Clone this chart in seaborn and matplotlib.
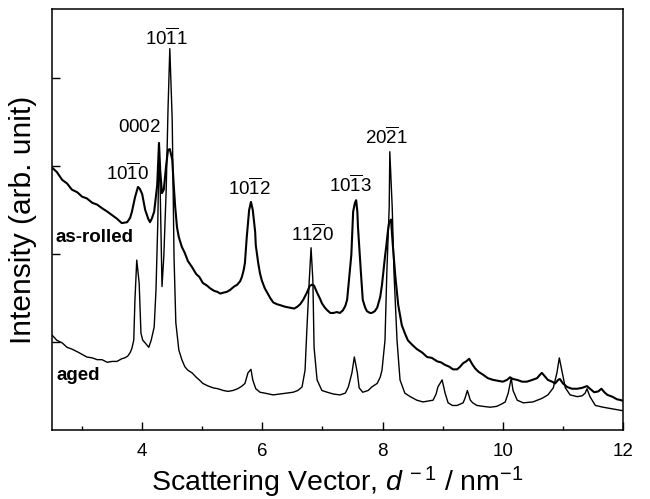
import numpy as np
import pandas as pd
import matplotlib
import matplotlib.pyplot as plt
import seaborn as sns
from matplotlib.ticker import MultipleLocator

matplotlib.use('Agg')

# as-rolled pattern (upper curve), x in nm^-1, intensity in arb. units
rolled_x = [2.50, 2.58, 2.67, 2.75, 2.83, 2.92, 3.00, 3.08, 3.17, 3.25, 3.33, 3.42, 3.50, 3.58,
            3.66, 3.75, 3.80, 3.83, 3.88, 3.93, 3.96, 4.00, 4.05, 4.10, 4.13, 4.16, 4.20, 4.23,
            4.25, 4.28, 4.30, 4.33, 4.36, 4.40, 4.43, 4.46, 4.50, 4.53, 4.55, 4.58, 4.61, 4.66,
            4.71, 4.76, 4.83, 4.90, 4.95, 5.01, 5.08, 5.13, 5.20, 5.25, 5.30, 5.35, 5.41, 5.46,
            5.53, 5.58, 5.63, 5.66, 5.69, 5.71, 5.74, 5.78, 5.81, 5.84, 5.88, 5.89, 5.93, 5.96,
            5.99, 6.04, 6.08, 6.13, 6.18, 6.24, 6.29, 6.38, 6.46, 6.53, 6.58, 6.63, 6.68, 6.71,
            6.74, 6.79, 6.83, 6.86, 6.91, 6.96, 6.99, 7.04, 7.08, 7.13, 7.18, 7.24, 7.29, 7.34,
            7.38, 7.41, 7.44, 7.48, 7.49, 7.51, 7.54, 7.56, 7.58, 7.59, 7.62, 7.64, 7.67, 7.71,
            7.74, 7.79, 7.82, 7.87, 7.91, 7.96, 7.99, 8.01, 8.04, 8.06, 8.09, 8.11, 8.14, 8.17,
            8.21, 8.26, 8.32, 8.37, 8.42, 8.49, 8.57, 8.66, 8.74, 8.82, 8.91, 8.97, 9.04, 9.11,
            9.17, 9.24, 9.29, 9.34, 9.39, 9.44, 9.49, 9.54, 9.60, 9.67, 9.75, 9.84, 9.92, 10.00,
            10.07, 10.12, 10.17, 10.24, 10.32, 10.40, 10.49, 10.57, 10.62, 10.65, 10.70, 10.75,
            10.82, 10.87, 10.92, 10.95, 11.00, 11.07, 11.15, 11.24, 11.32, 11.40, 11.45, 11.52,
            11.59, 11.64, 11.69, 11.74, 11.82, 11.90, 11.97, 12.00]
rolled_y = [2.98, 2.93, 2.84, 2.80, 2.73, 2.70, 2.65, 2.63, 2.58, 2.56, 2.52, 2.48, 2.44, 2.40,
            2.35, 2.36, 2.41, 2.48, 2.64, 2.76, 2.74, 2.68, 2.50, 2.40, 2.36, 2.40, 2.48, 2.66,
            2.78, 3.26, 2.95, 2.69, 2.73, 3.01, 3.18, 3.19, 3.07, 2.73, 2.53, 2.30, 2.19, 2.08,
            2.01, 1.92, 1.85, 1.77, 1.74, 1.67, 1.64, 1.61, 1.58, 1.57, 1.55, 1.56, 1.57, 1.59,
            1.63, 1.65, 1.69, 1.74, 1.82, 1.90, 2.19, 2.50, 2.59, 2.50, 2.25, 2.10, 1.90, 1.78,
            1.70, 1.61, 1.56, 1.50, 1.45, 1.43, 1.42, 1.40, 1.39, 1.38, 1.40, 1.43, 1.48, 1.52,
            1.56, 1.64, 1.65, 1.64, 1.56, 1.49, 1.44, 1.39, 1.36, 1.33, 1.33, 1.34, 1.33, 1.36,
            1.41, 1.48, 1.70, 1.99, 2.16, 2.48, 2.58, 2.61, 2.48, 2.31, 1.99, 1.78, 1.48, 1.39,
            1.35, 1.33, 1.33, 1.35, 1.39, 1.51, 1.65, 1.78, 1.97, 2.08, 2.27, 2.36, 2.39, 2.10,
            1.76, 1.42, 1.19, 1.10, 1.02, 0.97, 0.92, 0.88, 0.83, 0.82, 0.78, 0.77, 0.74, 0.72,
            0.69, 0.69, 0.72, 0.76, 0.78, 0.81, 0.75, 0.70, 0.66, 0.63, 0.59, 0.57, 0.56, 0.55,
            0.57, 0.60, 0.58, 0.57, 0.55, 0.55, 0.57, 0.59, 0.63, 0.65, 0.61, 0.57,
            0.55, 0.53, 0.57, 0.58, 0.53, 0.49, 0.47, 0.47, 0.48, 0.50, 0.47, 0.43,
            0.44, 0.47, 0.43, 0.40, 0.38, 0.35, 0.34, 0.33]

# aged pattern (lower curve)
aged_x = [2.50, 2.58, 2.67, 2.75, 2.83, 2.92, 3.00, 3.08, 3.17, 3.25, 3.33, 3.42, 3.50, 3.58,
          3.66, 3.71, 3.76, 3.80, 3.83, 3.86, 3.88, 3.91, 3.95, 3.98, 4.01, 4.05, 4.11, 4.15,
          4.20, 4.23, 4.26, 4.28, 4.30, 4.31, 4.33, 4.36, 4.40, 4.43, 4.46, 4.50, 4.53, 4.56,
          4.61, 4.66, 4.71, 4.76, 4.83, 4.90, 4.95, 5.01, 5.10, 5.18, 5.26, 5.35, 5.43, 5.51,
          5.59, 5.66, 5.71, 5.76, 5.81, 5.84, 5.89, 5.96, 6.04, 6.18, 6.29, 6.41, 6.51, 6.59,
          6.66, 6.71, 6.74, 6.78, 6.81, 6.84, 6.86, 6.91, 6.99, 7.08, 7.18, 7.29, 7.38, 7.43,
          7.49, 7.53, 7.58, 7.61, 7.67, 7.76, 7.82, 7.91, 7.96, 7.99, 8.04, 8.07, 8.11, 8.12,
          8.16, 8.19, 8.24, 8.29, 8.37, 8.46, 8.57, 8.67, 8.76, 8.84, 8.89, 8.92, 8.99, 9.04,
          9.09, 9.16, 9.24, 9.34, 9.37, 9.41, 9.46, 9.50, 9.57, 9.67, 9.79, 9.90, 9.99, 10.04,
          10.09, 10.14, 10.17, 10.24, 10.34, 10.50, 10.65, 10.75, 10.84, 10.90, 10.94, 10.99,
          11.04, 11.12, 11.24, 11.32, 11.37, 11.40, 11.45, 11.54, 11.67, 11.83, 12.00]
aged_y = [1.08, 1.02, 0.99, 0.94, 0.92, 0.89, 0.86, 0.83, 0.82, 0.80, 0.80, 0.77, 0.78, 0.78,
          0.81, 0.82, 0.84, 0.88, 0.93, 1.02, 1.48, 1.93, 1.67, 1.10, 1.02, 0.99, 0.94, 1.02,
          1.17, 1.59, 2.35, 3.18, 2.73, 2.35, 1.63, 1.97, 2.73, 3.64, 4.33, 3.52, 1.97, 1.22,
          0.91, 0.80, 0.72, 0.68, 0.65, 0.60, 0.57, 0.53, 0.50, 0.48, 0.47, 0.45, 0.44, 0.45,
          0.47, 0.50, 0.53, 0.65, 0.69, 0.57, 0.47, 0.43, 0.42, 0.40, 0.41, 0.42, 0.43, 0.45,
          0.49, 0.68, 1.14, 1.70, 2.07, 1.70, 0.94, 0.57, 0.45, 0.43, 0.41, 0.40, 0.42, 0.49,
          0.65, 0.83, 0.65, 0.48, 0.43, 0.45, 0.49, 0.53, 0.60, 0.68, 1.02, 1.78, 2.53, 3.16,
          2.53, 1.78, 1.02, 0.57, 0.42, 0.38, 0.34, 0.32, 0.33, 0.34, 0.41, 0.49, 0.57, 0.42,
          0.31, 0.28, 0.28, 0.31, 0.36, 0.45, 0.34, 0.31, 0.28, 0.27, 0.26, 0.27, 0.30, 0.32,
          0.42, 0.59, 0.45, 0.34, 0.31, 0.32, 0.36, 0.40, 0.48, 0.65, 0.82, 0.65,
          0.48, 0.40, 0.38, 0.39, 0.42, 0.47, 0.38, 0.28, 0.26, 0.24, 0.22]

# reflection labels and where they sit
peak_names = [r'$\mathregular{10\overline{1}0}$', r'$\mathregular{0002}$',
              r'$\mathregular{10\overline{1}1}$', r'$\mathregular{10\overline{1}2}$',
              r'$\mathregular{11\overline{2}0}$', r'$\mathregular{10\overline{1}3}$',
              r'$\mathregular{20\overline{2}1}$']
peak_label_x = [3.75, 3.96, 4.41, 5.79, 6.83, 7.46, 8.07]
peak_label_y = [2.92, 3.43, 4.45, 2.75, 2.22, 2.78, 3.32]

sns.set_style("ticks")
plt.rcParams['font.family'] = ['Liberation Sans', 'DejaVu Sans']
plt.rcParams['mathtext.fontset'] = 'custom'
plt.rcParams['mathtext.rm'] = 'Liberation Sans'
plt.rcParams['mathtext.it'] = 'Liberation Sans:italic'
plt.rcParams['mathtext.bf'] = 'Liberation Sans:bold'
plt.rcParams['text.color'] = 'black'
plt.rcParams['axes.labelcolor'] = 'black'
plt.rcParams['xtick.color'] = 'black'
plt.rcParams['ytick.color'] = 'black'

fig = plt.figure(figsize=(6.5, 4.99), dpi=100)
ax = fig.add_axes([0.08, 0.138, 0.8785, 0.844])

df_rolled = pd.DataFrame({'x': rolled_x, 'y': rolled_y})
df_aged = pd.DataFrame({'x': aged_x, 'y': aged_y})
sns.lineplot(data=df_rolled, x='x', y='y', ax=ax, color='black', linewidth=1.5,
             sort=False, estimator=None)
sns.lineplot(data=df_aged, x='x', y='y', ax=ax, color='black', linewidth=1.0,
             sort=False, estimator=None)

for name, lx, ly in zip(peak_names, peak_label_x, peak_label_y):
    ax.text(lx, ly, name, ha='center', va='center', fontsize=13.5)

ax.text(2.55, 2.19, 'as-rolled', ha='left', va='center', fontsize=13.5, fontweight='bold')
ax.text(2.58, 0.62, 'aged', ha='left', va='center', fontsize=13.5, fontweight='bold')

ax.set_xlim(2.5, 12)
ax.set_ylim(0, 4.78)
ax.xaxis.set_minor_locator(MultipleLocator(1))
ax.set_xticks([4, 6, 8, 10, 12])
ax.set_yticks([1, 2, 3, 4])
ax.set_yticklabels([])
ax.tick_params(axis='both', which='major', direction='in', length=6, width=1.0,
               labelsize=13.5, pad=9, top=False, right=False)
ax.tick_params(axis='x', which='minor', direction='in', length=3, width=1.0, top=False)

ax.set_xlabel(r'Scattering Vector, $\mathit{d}^{\,-1}$ / nm$^{-1}$', fontsize=20.5, labelpad=4)
ax.set_ylabel('Intensity (arb. unit)', fontsize=21.5, labelpad=2)

for spine in ax.spines.values():
    spine.set_visible(True)
    spine.set_color('black')
    spine.set_linewidth(1.1)

plt.savefig('out.png', dpi=100)
plt.close()
